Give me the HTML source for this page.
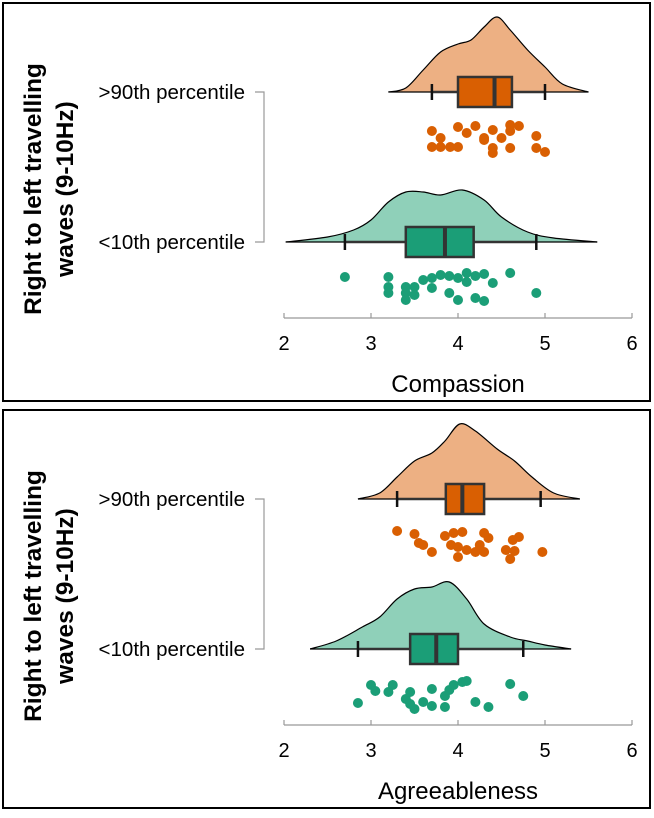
<!DOCTYPE html>
<html><head><meta charset="utf-8"><style>
html,body{margin:0;padding:0;background:#fff;}
svg{display:block;font-family:"Liberation Sans",Arial,sans-serif;}
</style></head><body>
<svg id="chart" width="654" height="818" viewBox="0 0 654 818"></svg>
<script>
const panelTitles = ["Compassion", "Agreeableness"];
const groupLabels = [">90th percentile", "<10th percentile"];
const xTicks = [2, 3, 4, 5, 6];
// box stats: [whiskerLow, q1, median, q3, whiskerHigh]
const p1HighBox = [3.7, 4.0, 4.42, 4.62, 5.0];
const p1LowBox = [2.7, 3.4, 3.85, 4.18, 4.9];
const p2HighBox = [3.3, 3.86, 4.05, 4.3, 4.95];
const p2LowBox = [2.85, 3.45, 3.75, 4.0, 4.75];
// density curves: values and heights (relative units)
const p1HighDensX = [3.2,3.4,3.6,3.8,4.0,4.15,4.3,4.45,4.6,4.8,5.0,5.2,5.5];
const p1HighDensY = [0,4,22,40,48,52,65,75,62,42,25,8,0];
const p1LowDensX = [2.02,2.5,2.8,3.0,3.2,3.4,3.6,3.8,4.05,4.3,4.5,4.8,5.1,5.6];
const p1LowDensY = [0,5,12,22,40,50,50,47,52,42,25,10,4,0];
const p2HighDensX = [2.85,3.1,3.3,3.5,3.7,3.85,4.02,4.2,4.45,4.65,4.85,5.1,5.4];
const p2HighDensY = [0,6,22,38,46,58,75,68,50,38,22,6,0];
const p2LowDensX = [2.3,2.6,2.9,3.1,3.3,3.5,3.7,3.9,4.1,4.3,4.6,4.8,5.0,5.3];
const p2LowDensY = [0,8,22,32,50,60,62,67,50,25,12,8,4,0];
// raw points: values and jitter (px offset below baseline)
const p1HighPtsX = [3.7,3.8,3.7,3.8,3.91,4.0,4.0,4.1,4.2,4.3,4.4,4.4,4.4,4.5,4.6,4.6,4.7,4.6,4.9,4.9,5.0,4.3];
const p1HighPtsJ = [39,46,55,55,55,55,35,41,34,46,38,56,61,46,33,39,34,56,44,56,60,48];
const p1LowPtsX = [2.7,3.2,3.2,3.2,3.4,3.4,3.4,3.5,3.5,3.6,3.7,3.7,3.8,3.9,3.9,4.0,4.0,4.1,4.1,4.2,4.2,4.3,4.3,4.4,4.6,4.9];
const p1LowPtsJ = [35,35,45,51,45,51,58,45,53,38,36,46,33,34,51,36,58,31,40,34,56,32,59,41,31,51];
const p2HighPtsX = [3.3,3.5,3.55,3.6,3.7,3.85,3.95,4.05,3.92,4.0,4.1,4.0,4.2,4.25,4.3,4.35,4.3,4.55,4.63,4.7,4.65,4.6,4.97];
const p2HighPtsJ = [32,35,44,46,53,37,34,33,46,48,51,58,53,46,34,39,53,51,41,38,52,60,53];
const p2LowPtsX = [2.85,3.0,3.05,3.2,3.25,3.4,3.45,3.45,3.5,3.6,3.7,3.7,3.85,3.9,3.95,3.85,4.05,4.1,4.2,4.35,4.6,4.75];
const p2LowPtsJ = [54,36,42,43,36,50,43,55,60,53,57,40,47,41,36,58,33,32,53,58,35,47];

const svg = document.getElementById('chart');
const NS = 'http://www.w3.org/2000/svg';
function mk(tag, attrs, parent){const e=document.createElementNS(NS,tag);for(const k in attrs)e.setAttribute(k,attrs[k]);(parent||svg).appendChild(e);return e;}
const xs = v => 284 + (v-2)*87;

function smoothPath(pts){
  let d = 'M'+pts[0][0]+','+pts[0][1];
  for(let i=0;i<pts.length-1;i++){
    const p0=pts[Math.max(0,i-1)],p1=pts[i],p2=pts[i+1],p3=pts[Math.min(pts.length-1,i+2)];
    const c1x=p1[0]+(p2[0]-p0[0])/6,c1y=p1[1]+(p2[1]-p0[1])/6;
    const c2x=p2[0]-(p3[0]-p1[0])/6,c2y=p2[1]-(p3[1]-p1[1])/6;
    d+=' C'+c1x+','+c1y+' '+c2x+','+c2y+' '+p2[0]+','+p2[1];
  }
  return d;
}

function group(g, base, densX, densY, box, ptsX, ptsJ, fillLight, fillDark, name){
  const pts = densX.map((v,i)=>[xs(v), base - densY[i]]);
  const d = smoothPath(pts);
  const dens = mk('path',{d:d+' Z',fill:fillLight,stroke:'none'},g);
  
  
  const outline = mk('path',{d:d,fill:'none',stroke:'#000','stroke-width':1.2},g);
  
  
  mk('line',{x1:xs(densX[0]),x2:xs(densX[densX.length-1]),y1:base,y2:base,stroke:'#000','stroke-width':1.2},g);
  const wl = mk('line',{x1:xs(box[0]),x2:xs(box[4]),y1:base,y2:base,stroke:'#333','stroke-width':2.5},g);
  
  
  [box[0],box[4]].forEach(v=>{mk('line',{x1:xs(v),x2:xs(v),y1:base-8,y2:base+8,stroke:'#111','stroke-width':2.5},g);});
  const b = mk('rect',{x:xs(box[1]),y:base-15,width:xs(box[3])-xs(box[1]),height:30,fill:fillDark,stroke:'#333','stroke-width':2.5},g);
  
  
  const m = mk('line',{x1:xs(box[2]),x2:xs(box[2]),y1:base-15,y2:base+15,stroke:'#333','stroke-width':4},g);
  
  
  ptsX.forEach((v,i)=>{
    const c = mk('circle',{cx:xs(v),cy:base+ptsJ[i],r:5,fill:fillDark},g);
    
    
  });
}

function panel(top, idx, highD, lowD, highBox, lowBox, highPts, lowPts){
  const g = mk('g',{});
  
  
  const fr = mk('rect',{x:3,y:top,width:647,height:398,fill:'none',stroke:'#000','stroke-width':2},g);
  
  
  const bh = top+89, bl = top+239, ax = top+315;
  mk('path',{d:'M255,'+bh+' H264 V'+bl+' H255',fill:'none',stroke:'#999','stroke-width':1.2},g);
  [bh,bl].forEach((y,i)=>{
    const t = mk('text',{x:245,y:y+7,'text-anchor':'end','font-size':20.5,fill:'#000'},g);
    t.textContent = groupLabels[i];
    
    
  });
  const yt = mk('text',{transform:'translate(41,'+(top+186)+') rotate(-90)','text-anchor':'middle','font-size':24.5,'font-weight':'bold',fill:'#000'},g);
  
  
  const t1 = mk('tspan',{x:0,dy:0},yt); t1.textContent='Right to left travelling';
  const t2 = mk('tspan',{x:0,dy:32},yt); t2.textContent='waves (9-10Hz)';
  const xl = mk('line',{x1:xs(2),x2:xs(6),y1:ax,y2:ax,stroke:'#999','stroke-width':1.2},g);
  
  
  xTicks.forEach(v=>{
    mk('line',{x1:xs(v),x2:xs(v),y1:ax-5,y2:ax,stroke:'#999','stroke-width':1.2},g);
    const t = mk('text',{x:xs(v),y:ax+32,'text-anchor':'middle','font-size':20,fill:'#000'},g);
    t.textContent = v;
    
    
  });
  const xt = mk('text',{x:458,y:ax+74,'text-anchor':'middle','font-size':24,fill:'#000'},g);
  xt.textContent = panelTitles[idx];
  
  
  group(g, bh, highD[0], highD[1], highBox, highPts[0], highPts[1], '#edb083', '#d95f02', 'high-group');
  group(g, bl, lowD[0], lowD[1], lowBox, lowPts[0], lowPts[1], '#8fd0b9', '#1b9e77', 'low-group');
}
panel(3, 0, [p1HighDensX,p1HighDensY],[p1LowDensX,p1LowDensY], p1HighBox, p1LowBox, [p1HighPtsX,p1HighPtsJ],[p1LowPtsX,p1LowPtsJ]);
panel(410, 1, [p2HighDensX,p2HighDensY],[p2LowDensX,p2LowDensY], p2HighBox, p2LowBox, [p2HighPtsX,p2HighPtsJ],[p2LowPtsX,p2LowPtsJ]);
</script>
</body></html>
